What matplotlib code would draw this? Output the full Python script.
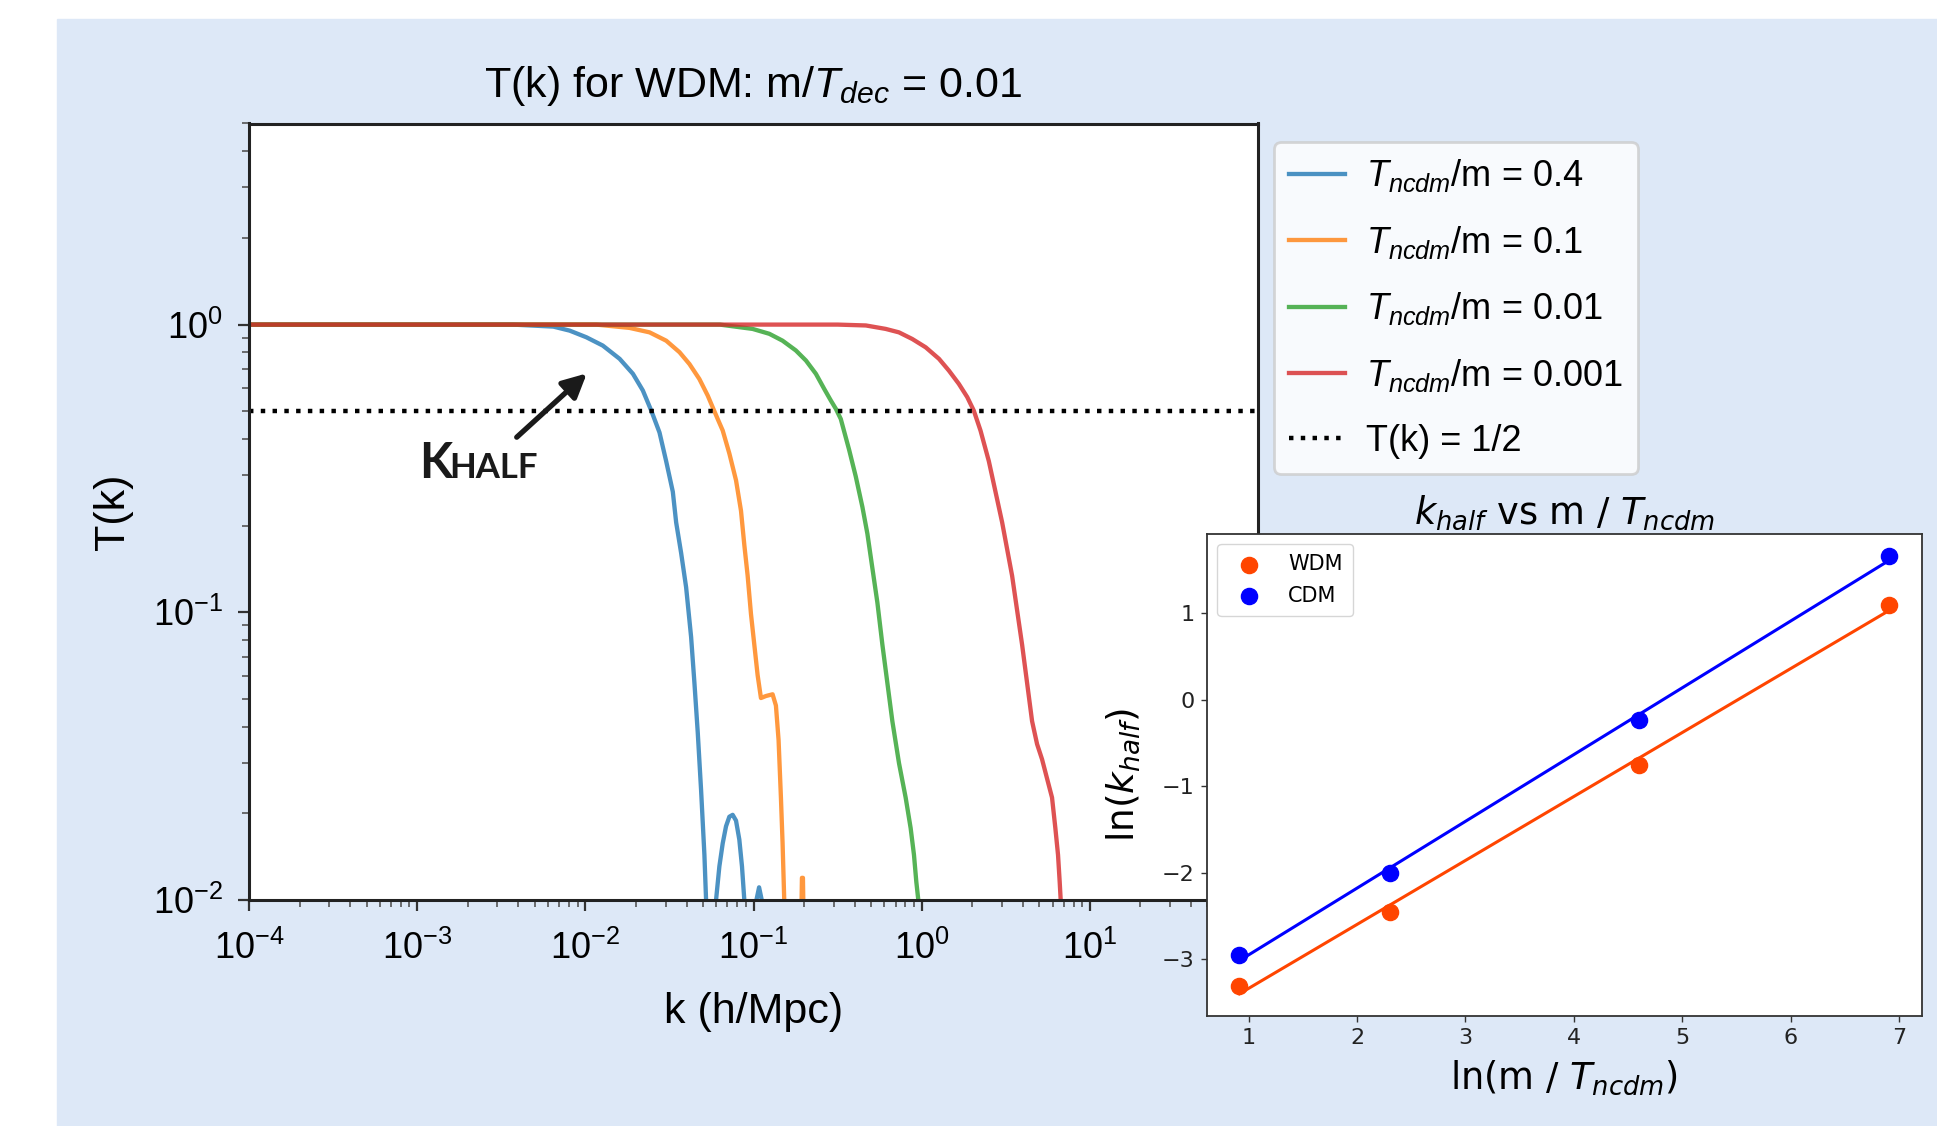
import numpy as np
import matplotlib.pyplot as plt
from matplotlib.patches import Rectangle

MAIN_FONT = ['Liberation Sans', 'DejaVu Sans']
plt.rcParams['font.family'] = MAIN_FONT
plt.rcParams['mathtext.fontset'] = 'custom'
plt.rcParams['mathtext.rm'] = 'Liberation Sans'
plt.rcParams['mathtext.it'] = 'Liberation Sans:italic'
plt.rcParams['mathtext.bf'] = 'Liberation Sans:bold'

nan = np.nan

# --- transfer functions T(k) (log10 k, log10 T) ---
# nan separates the pieces that dip below the bottom of the axis
logk_04 = [-4.0, -2.43, -2.19, -2.093, -1.994, -1.896, -1.796, -1.717, -1.658,
           -1.608, -1.559, -1.5194, -1.4798, -1.46, -1.4304,
           -1.4007, -1.371, -1.3513, -1.3315, -1.3117, -1.2919, -1.282, nan,
           -1.2227, -1.2029, -1.1832, -1.1634, -1.1436, -1.1238, -1.104, -1.0843,
           -1.0685, -1.0546, nan,
           -0.9826, -0.9668, -0.951]
logT_04 = [0.0, 0.0, -0.007, -0.021, -0.044, -0.073, -0.119, -0.171, -0.229,
           -0.299, -0.375, -0.4747, -0.581, -0.6874, -0.7937,
           -0.913, -1.086, -1.2455, -1.418, -1.618, -1.8434, -2.0, nan,
           -2.0, -1.883, -1.8035, -1.7438, -1.7106, -1.704, -1.724, -1.79,
           -1.883, -2.0, nan,
           -2.0, -1.956, -2.0]

logk_01 = [-4.0, -1.935, -1.737, -1.618, -1.519, -1.44, -1.381, -1.322, -1.272,
           -1.243, -1.213, -1.1832, -1.1436, -1.104, -1.0744, -1.0546, -1.0348,
           -1.015, -0.9953, -0.9755, -0.9557, -0.926, -0.8865, -0.8667, -0.8509,
           -0.837, -0.8271, -0.8172, nan,
           -0.714, -0.712, -0.706, -0.704]
logT_01 = [0.0, 0.0, -0.0115, -0.027, -0.056, -0.096, -0.137, -0.189, -0.247,
           -0.287, -0.328, -0.368, -0.448, -0.541, -0.647, -0.766, -0.873,
           -1.006, -1.112, -1.2185, -1.298, -1.291, -1.285, -1.324, -1.444,
           -1.643, -1.802, -2.0, nan,
           -2.0, -1.923, -1.923, -2.0]

logk_001 = [-4.0, -1.2, -1.0053, -0.906, -0.827, -0.748, -0.688, -0.629, -0.58,
            -0.54, -0.51, -0.481, -0.4315, -0.3919, -0.3523, -0.3227, -0.293,
            -0.2633, -0.2336, -0.204, -0.1743, -0.1347, -0.0952, -0.0655, -0.0457,
            -0.0319, -0.02]
logT_001 = [0.0, 0.0, -0.015, -0.032, -0.056, -0.09, -0.125, -0.171, -0.223,
            -0.264, -0.293, -0.328, -0.4349, -0.5279, -0.6343, -0.7271, -0.8469,
            -0.9665, -1.1125, -1.2455, -1.3785, -1.5247, -1.6441, -1.7503, -1.8434,
            -1.9365, -2.0]

logk_0001 = [-4.0, -0.5, -0.332, -0.214, -0.135, -0.056, 0.024, 0.103, 0.162,
             0.221, 0.271, 0.31, 0.35, 0.3994, 0.439, 0.4785, 0.5082,
             0.5379, 0.5675, 0.5972, 0.6269, 0.6566, 0.6862, 0.7159, 0.7456, 0.7752,
             0.795, 0.8109, 0.8207, 0.8267]
logT_0001 = [0.0, 0.0, -0.003, -0.015, -0.027, -0.05, -0.079, -0.119, -0.16,
             -0.206, -0.252, -0.299, -0.3685, -0.4747, -0.581, -0.6874, -0.7804,
             -0.8734, -0.993, -1.1125, -1.2455, -1.3785, -1.458, -1.511,
             -1.5777, -1.644, -1.7503, -1.8434, -1.9365, -2.0]

curves_logk = [logk_04, logk_01, logk_001, logk_0001]
curves_logT = [logT_04, logT_01, logT_001, logT_0001]
labels = ['$T_{ncdm}$/m = 0.4', '$T_{ncdm}$/m = 0.1',
          '$T_{ncdm}$/m = 0.01', '$T_{ncdm}$/m = 0.001']
colors = ['tab:blue', 'tab:orange', 'tab:green', 'tab:red']

# --- inset: ln(k_half) vs ln(m / T_ncdm) ---
ln_m_T = [0.916, 2.303, 4.605, 6.908]
ln_khalf_wdm = [-3.31, -2.46, -0.75, 1.10]
ln_khalf_cdm = [-2.95, -2.00, -0.24, 1.67]

W, H = 1937, 1126
fig = plt.figure(figsize=(W / 100, H / 100), dpi=100)
fig.patches.append(Rectangle((57 / W, 0), 1, 1 - 18.5 / H, transform=fig.transFigure,
                             color='#dde8f7', zorder=-10))

# main panel
ax = fig.add_axes([249 / W, 1 - 900 / H, (1258 - 249) / W, (900 - 123.5) / H])
for lk, lT, lab, c in zip(curves_logk, curves_logT, labels, colors):
    ax.plot(10 ** np.array(lk), 10 ** np.array(lT), color=c, lw=3.1, alpha=0.8, label=lab)
ax.axhline(0.5, color='k', ls=':', lw=3.2, label='T(k) = 1/2')
ax.set_xscale('log')
ax.set_yscale('log')
ax.set_xlim(1e-4, 1e2)
ax.set_ylim(1e-2, 5)
ax.set_title('T(k) for WDM: m/$T_{dec}$ = 0.01', fontsize=31, pad=19)
ax.set_xlabel('k (h/Mpc)', fontsize=31, labelpad=18)
ax.set_ylabel('T(k)', fontsize=31, labelpad=14)
ax.tick_params(which='major', labelsize=26, length=8, width=1.6, color='#333333')
ax.tick_params(which='minor', length=5, width=1.2, color='#555555')
ax.tick_params(axis='x', pad=14)
ax.tick_params(axis='y', pad=11)
for s in ax.spines.values():
    s.set_linewidth(2.2)
    s.set_color('#222222')

leg = ax.legend(loc='upper left', bbox_to_anchor=(1273.6 / W, 1 - 142 / H),
                bbox_transform=fig.transFigure, fontsize=26, handlelength=1.55,
                handletextpad=0.6, labelspacing=0.82, borderpad=0.42,
                borderaxespad=0, framealpha=0.8, edgecolor='0.8')
leg.get_frame().set_linewidth(2)

# k_half annotation
ax.annotate('', xy=(0.0105, 0.687), xytext=(0.0038, 0.40),
            arrowprops=dict(arrowstyle='-|>', lw=3.8, color='#1a1a1a', mutation_scale=36))
fig.text(419 / W, 1 - 478 / H, 'K', fontsize=35, family='Lato', weight='bold',
         color='#1a1a1a', va='baseline', ha='left')
fig.text(449 / W, 1 - 478 / H, 'HALF', fontsize=25, family='Lato', weight='bold',
         color='#1a1a1a', va='baseline', ha='left')

# inset panel
ax2 = fig.add_axes([1207 / W, 1 - 1015.7 / H, (1921.5 - 1207) / W, (1015.7 - 533.6) / H],
                   zorder=5)
ax2.scatter(ln_m_T, ln_khalf_wdm, s=135, color='orangered', label='WDM', zorder=3)
ax2.scatter(ln_m_T, ln_khalf_cdm, s=135, color='blue', label='CDM', zorder=3)
fit_wdm = np.polyfit(ln_m_T, ln_khalf_wdm, 1)
fit_cdm = np.polyfit(ln_m_T, ln_khalf_cdm, 1)
ax2.plot(ln_m_T, np.polyval(fit_wdm, ln_m_T), color='orangered', lw=2.2)
ax2.plot(ln_m_T, np.polyval(fit_cdm, ln_m_T), color='blue', lw=2.2)
dv = dict(family='DejaVu Sans', math_fontfamily='dejavusans')
ax2.set_title('$k_{half}$ vs m / $T_{ncdm}$', fontsize=26.5, pad=7, **dv)
ax2.set_xlabel('ln(m / $T_{ncdm}$)', fontsize=26.5, labelpad=7, **dv)
ax2.set_ylabel('ln($k_{half}$)', fontsize=27, labelpad=14, **dv)
ax2.tick_params(labelsize=16, length=4, width=1, color='#333333', pad=5,
                labelcolor='#222222', labelfontfamily='DejaVu Sans')
for s in ax2.spines.values():
    s.set_linewidth(1.3)
    s.set_color('#333333')
ax2.legend(loc='upper left', prop=dict(family='DejaVu Sans', size=15),
           scatterpoints=1, handletextpad=0.9, borderpad=0.5, labelspacing=0.55)

fig.savefig('out.png', dpi=100)
